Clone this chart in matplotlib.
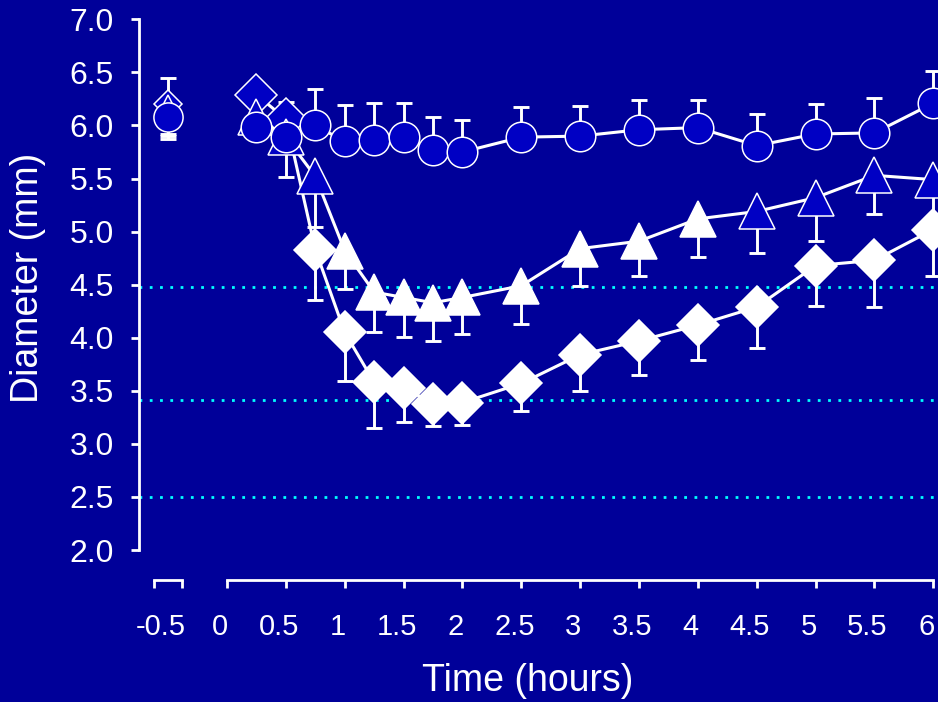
import matplotlib.pyplot as plt
from matplotlib.transforms import ScaledTranslation

# =====================================================
# DATA
# =====================================================

times = [0.25, 0.5, 0.75, 1, 1.25, 1.5, 1.75, 2, 2.5, 3, 3.5, 4, 4.5, 5, 5.5, 6]
pre_time = -0.5

circle_mean = [5.99, 5.89, 6.00, 5.85, 5.86, 5.89, 5.77, 5.75, 5.89, 5.90,
               5.96, 5.98, 5.81, 5.92, 5.93, 6.21]
circle_upper = [6.20, 6.22, 6.34, 6.19, 6.21, 6.21, 6.08, 6.05, 6.17, 6.18,
                6.24, 6.24, 6.11, 6.20, 6.26, 6.51]

tri_mean = [6.08, 5.89, 5.52, 4.82, 4.43, 4.38, 4.33, 4.38, 4.49, 4.84,
            4.91, 5.12, 5.19, 5.32, 5.53, 5.49]
tri_lower = [6.00, 5.51, 5.04, 4.46, 4.05, 4.01, 3.97, 4.04, 4.13, 4.49,
             4.58, 4.76, 4.80, 4.91, 5.17, 5.05]
tri_sig = [False, False, False, True, True, True, True, True, True, True,
           True, True, False, False, False, False]

dia_mean = [6.29, 6.06, 4.83, 4.05, 3.58, 3.53, 3.38, 3.39, 3.57, 3.84,
            3.97, 4.12, 4.29, 4.68, 4.73, 5.02]
dia_lower = [6.20, 5.95, 4.36, 3.59, 3.15, 3.21, 3.17, 3.18, 3.31, 3.50,
             3.65, 3.79, 3.90, 4.30, 4.29, 4.58]
dia_sig = [False, False, True, True, True, True, True, True, True, True,
           True, True, True, True, True, True]

# pre-dose values: circle, triangle, diamond
pre_circle = [6.08, 5.87, 6.45]   # mean, lower, upper
pre_tri = [6.17, 5.90]            # mean, lower
pre_dia = [6.20, 5.92]            # mean, lower

ref_lines = [4.48, 3.41, 2.5]

y_ticks = [2.0, 2.5, 3.0, 3.5, 4.0, 4.5, 5.0, 5.5, 6.0, 6.5, 7.0]
x_labels = ["-0.5", "0", "0.5", "1", "1.5", "2", "2.5", "3", "3.5",
            "4", "4.5", "5", "5.5", "6"]
x_label_pos = [-0.5, 0, 0.5, 1, 1.5, 2, 2.5, 3, 3.5, 4, 4.5, 5, 5.5, 6]

# =====================================================
# STYLE
# =====================================================

bg = "#000099"
fill = "#0000C4"
white = "white"
plt.rcParams["font.family"] = ["Liberation Sans", "DejaVu Sans"]

fig = plt.figure(figsize=(9.38, 7.02), dpi=100, facecolor=bg)
ax = fig.add_axes([139 / 938, 122 / 702, 1 - 139 / 938, 570 / 702])
ax.set_facecolor(bg)
ax.set_xlim(-0.748, 6.04)
ax.set_ylim(1.718, 7.088)

# reference lines
for y in ref_lines:
    ax.axhline(y, color="#00FFFF", lw=2, ls=(0, (1, 2.7)), zorder=1)

# error bars
eb = dict(fmt="none", ecolor=white, elinewidth=2.1, capsize=6, capthick=2.1, zorder=2)
ax.errorbar(times, circle_mean,
            yerr=[[0] * len(times), [u - m for u, m in zip(circle_upper, circle_mean)]], **eb)
ax.errorbar(times, tri_mean,
            yerr=[[m - l for m, l in zip(tri_mean, tri_lower)], [0] * len(times)], **eb)
ax.errorbar(times, dia_mean,
            yerr=[[m - l for m, l in zip(dia_mean, dia_lower)], [0] * len(times)], **eb)
ax.errorbar([pre_time], [pre_circle[0]],
            yerr=[[pre_circle[0] - pre_circle[1]], [pre_circle[2] - pre_circle[0]]], **eb)
ax.errorbar([pre_time], [pre_tri[0]], yerr=[[pre_tri[0] - pre_tri[1]], [0]], **eb)
ax.errorbar([pre_time], [pre_dia[0]], yerr=[[pre_dia[0] - pre_dia[1]], [0]], **eb)

# connecting lines
ax.plot(times, dia_mean, color=white, lw=2.2, zorder=3)
ax.plot(times, tri_mean, color=white, lw=2.2, zorder=3)
ax.plot(times, circle_mean, color=white, lw=2.2, zorder=3)

# markers
for t, v, s in zip(times, dia_mean, dia_sig):
    ax.plot(t, v, marker="D", ms=21.5, mfc=white if s else fill, mec=white, mew=1.1, zorder=4)
for t, v, s in zip(times, tri_mean, tri_sig):
    ax.plot(t, v, marker="^", ms=25.5, mfc=white if s else fill, mec=white, mew=1.1, zorder=5)
ax.plot(times, circle_mean, ls="none", marker="o", ms=22, mfc=fill, mec=white, mew=1.1, zorder=6)

ax.plot(pre_time, pre_dia[0], marker="D", ms=14, mfc=fill, mec=white, mew=1.1, zorder=4)
ax.plot(pre_time, pre_tri[0], marker="^", ms=17, mfc=fill, mec=white, mew=1.1, zorder=5)
ax.plot(pre_time, pre_circle[0], marker="o", ms=21, mfc=fill, mec=white, mew=1.1, zorder=6)

# =====================================================
# AXES
# =====================================================

for side in ["top", "right"]:
    ax.spines[side].set_visible(False)
ax.spines["left"].set_color(white)
ax.spines["left"].set_linewidth(2)
ax.spines["left"].set_bounds(2.0, 7.0)
ax.spines["bottom"].set_color(white)
ax.spines["bottom"].set_linewidth(2)
ax.spines["bottom"].set_bounds(0, 6)

# broken axis piece for pre-dose
ax.plot([-0.62, -0.38], [0, 0], color=white, lw=2, clip_on=False,
        transform=ax.get_xaxis_transform(), solid_capstyle="projecting")

ax.set_yticks(y_ticks, [f"{v:.1f}" for v in y_ticks])
ax.tick_params(axis="y", colors=white, length=6, width=2, pad=12, labelsize=23)

ax.xaxis.remove_overlapping_locs = False
ax.set_xticks([-0.62, -0.38] + x_label_pos[1:])
ax.set_xticklabels([])
ax.set_xticks(x_label_pos, x_labels, minor=True)
ax.tick_params(axis="x", which="major", colors=white, length=6, width=2, direction="out")
ax.tick_params(axis="x", which="minor", colors=white, length=0, pad=24, labelsize=21)

shift = ScaledTranslation(-7 / 100, 0, fig.dpi_scale_trans)
for lab in ax.xaxis.get_minorticklabels():
    lab.set_transform(lab.get_transform() + shift)

fig.text(528 / 938, 1 - 681 / 702, "Time (hours)", color=white, fontsize=27,
         ha="center", va="center")
fig.text(28 / 938, 1 - 278 / 702, "Diameter (mm)", color=white, fontsize=27,
         ha="center", va="center", rotation=90)

fig.savefig("out.png", dpi=100, facecolor=bg)
